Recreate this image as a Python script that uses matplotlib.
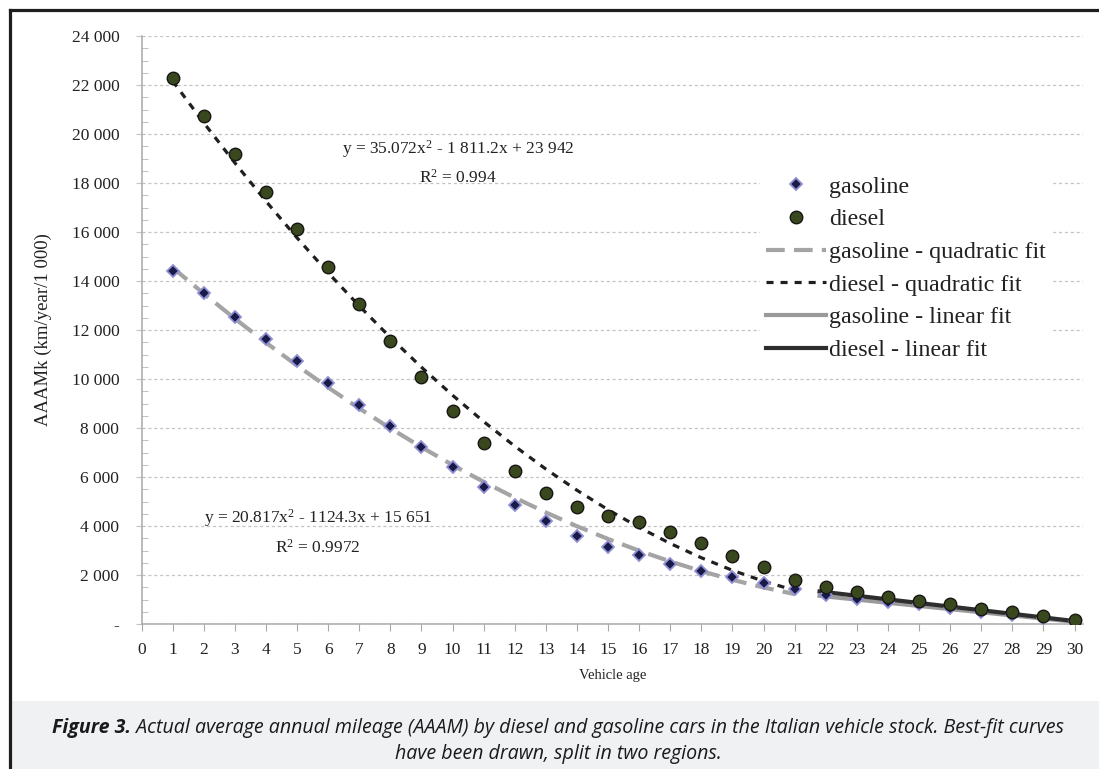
"""
Actual average annual mileage (AAAM) by diesel and gasoline cars,
with quadratic fits (age 1-21) and linear fits (age 22-30).
"""
import matplotlib
matplotlib.use("Agg")
import matplotlib.pyplot as plt
from matplotlib.lines import Line2D
from matplotlib.patches import Rectangle
from matplotlib.ticker import MultipleLocator

# ── data ─────────────────────────────────────────────────────────────────────
AGES = list(range(1, 31))
GASOLINE = [14410, 13500, 12545, 11630, 10735, 9825, 8940, 8080, 7225, 6420,
            5580, 4860, 4220, 3595, 3155, 2800, 2450, 2175, 1905, 1660,
            1415, 1170, 1030, 900, 800, 660, 500, 360, 230, 110]
DIESEL = [22270, 20735, 19185, 17645, 16110, 14585, 13060, 11560, 10095, 8695,
          7400, 6260, 5360, 4760, 4410, 4175, 3770, 3295, 2775, 2340,
          1795, 1525, 1295, 1115, 950, 815, 630, 480, 330, 165]

QUAD_AGES = list(range(1, 22))
GAS_QUAD = [14548, 13486, 12466, 11487, 10550, 9655, 8801, 7989, 7219, 6490,
            5803, 5157, 4553, 3991, 3470, 2991, 2554, 2158, 1804, 1492, 1221]
DSL_QUAD = [22166, 20460, 18824, 17258, 15763, 14337, 12982, 11697, 10482, 9337,
            8263, 7258, 6324, 5459, 4665, 3941, 3287, 2704, 2190, 1747, 1374]

LIN_AGES = [21.8, 30]
GAS_LIN = [1150, 90]
DSL_LIN = [1330, 120]

Y_TICKS = list(range(0, 24001, 2000))
Y_LABELS = ["-"] + [f"{v // 1000} 000" for v in Y_TICKS[1:]]

GAS_EQ = "y = 20.817x$^2$ - 1124.3x + 15 651"
GAS_R2 = "R$^2$ = 0.9972"
DSL_EQ = "y = 35.072x$^2$ - 1 811.2x + 23 942"
DSL_R2 = "R$^2$ = 0.994"

CAPTION_BOLD = "Figure 3."
CAPTION_1 = ("Actual average annual mileage (AAAM) by diesel and gasoline cars "
             "in the Italian vehicle stock. Best-fit curves")
CAPTION_2 = "have been drawn, split in two regions."

SERIF = "Liberation Serif"
W, H = 1099, 769

plt.rcParams["mathtext.fontset"] = "custom"
plt.rcParams["mathtext.rm"] = SERIF
plt.rcParams["mathtext.it"] = SERIF


def main() -> None:
    fig = plt.figure(figsize=(W / 100, H / 100), dpi=100)
    fig.patch.set_facecolor("white")

    # caption band + frame
    fig.add_artist(Rectangle((11.5 / W, 0), 1, 68 / H, transform=fig.transFigure,
                             facecolor="#f0f1f3", edgecolor="none", zorder=0))
    fig.add_artist(Line2D([10 / W, 10 / W], [0, (H - 10) / H], transform=fig.transFigure,
                          color="#1e1e1e", lw=2.3))
    fig.add_artist(Line2D([10 / W, 1], [(H - 10) / H, (H - 10) / H], transform=fig.transFigure,
                          color="#1e1e1e", lw=2.3))

    ax = fig.add_axes([141.5 / W, 145 / H, 941.5 / W, 588 / H])
    ax.set_xlim(0, 30.27)
    ax.set_ylim(0, 24000)

    # grid
    ax.set_yticks(Y_TICKS)
    ax.set_yticklabels(Y_LABELS)
    ax.yaxis.set_minor_locator(MultipleLocator(500))
    ax.grid(axis="y", color="#c4c4c4", lw=0.9, linestyle=(0, (2.5, 2.2)))
    ax.set_axisbelow(True)

    # fits
    ax.plot(QUAD_AGES, GAS_QUAD, color="#a4a4a4", lw=3.0, dashes=(4.5, 2.2),
            solid_capstyle="butt", label="gasoline - quadratic fit", zorder=2)
    ax.plot(QUAD_AGES, DSL_QUAD, color="#1f1f1f", lw=2.3, dashes=(2.2, 2.2),
            label="diesel - quadratic fit", zorder=2)
    ax.plot(LIN_AGES, GAS_LIN, color="#9a9a9a", lw=3.0,
            label="gasoline - linear fit", zorder=2)
    ax.plot(LIN_AGES, DSL_LIN, color="#2e2e2e", lw=3.0,
            label="diesel - linear fit", zorder=2)

    # data points
    ax.plot(AGES, GASOLINE, linestyle="none", marker="D", ms=6.5,
            mfc="#1a1a48", mec="#8f8fd6", mew=1.3, label="gasoline", zorder=4)
    ax.plot(AGES, DIESEL, linestyle="none", marker="o", ms=9,
            mfc="#3a481d", mec="#161616", mew=1.0, label="diesel", zorder=5)

    # spines & ticks
    for side in ("top", "right"):
        ax.spines[side].set_visible(False)
    for side in ("left", "bottom"):
        ax.spines[side].set_color("#a8a8a8")
        ax.spines[side].set_linewidth(1.1)
    ax.set_xticks(range(0, 31))
    ax.tick_params(axis="x", direction="out", length=5, color="#a8a8a8",
                   labelsize=12.5, pad=8)
    ax.tick_params(axis="y", which="major", direction="out", length=4,
                   color="#c4c4c4", labelsize=12.5, pad=12)
    ax.tick_params(axis="y", which="minor", direction="in", length=4,
                   color="#b4b4b4")
    for lab in ax.get_xticklabels() + ax.get_yticklabels():
        lab.set_fontfamily(SERIF)
        lab.set_color("#222222")

    ax.set_ylabel("AAAMk (km/year/1 000)", family=SERIF, fontsize=13.5,
                  color="#222222", labelpad=14)
    ax.set_xlabel("Vehicle age", family=SERIF, fontsize=10.5, color="#222222",
                  labelpad=8)

    # fit equations
    eq_kw = dict(family=SERIF, fontsize=12.5, ha="center", va="center", color="#222222")
    ax.text(10.18, 19400, DSL_EQ, **eq_kw)
    ax.text(10.18, 18200, DSL_R2, **eq_kw)
    ax.text(5.67, 4330, GAS_EQ, **eq_kw)
    ax.text(5.67, 3100, GAS_R2, **eq_kw)

    # legend
    handles, labels = ax.get_legend_handles_labels()
    order = [4, 5, 0, 1, 2, 3]
    leg = ax.legend([handles[i] for i in order], [labels[i] for i in order],
                    loc="upper left", bbox_to_anchor=(748 / W, (H - 158) / H),
                    bbox_transform=fig.transFigure, prop={"family": SERIF, "size": 17.3},
                    frameon=True, facecolor="white", edgecolor="none", framealpha=1,
                    handlelength=2.5, handletextpad=0.12, labelspacing=0.45,
                    borderpad=0.25, fancybox=False)
    for t in leg.get_texts():
        t.set_color("#222222")

    # caption (bold-italic lead + italic rest, centred as one line)
    renderer = fig.canvas.get_renderer()
    cap_kw = dict(family="Open Sans", style="italic", fontsize=14.1, color="#1a1a1a",
                  va="center")
    y1 = (H - 728) / H
    t_bold = fig.text(0, y1, CAPTION_BOLD, weight="bold", **cap_kw)
    t_rest = fig.text(0, y1, " " + CAPTION_1, **cap_kw)
    w_bold = t_bold.get_window_extent(renderer).width / W
    w_rest = t_rest.get_window_extent(renderer).width / W
    x0 = 558 / W - (w_bold + w_rest) / 2
    t_bold.set_x(x0)
    t_rest.set_x(x0 + w_bold)
    fig.text(558 / W, (H - 754) / H, CAPTION_2, ha="center", **cap_kw)

    fig.savefig("out.png", dpi=100)


if __name__ == "__main__":
    main()
